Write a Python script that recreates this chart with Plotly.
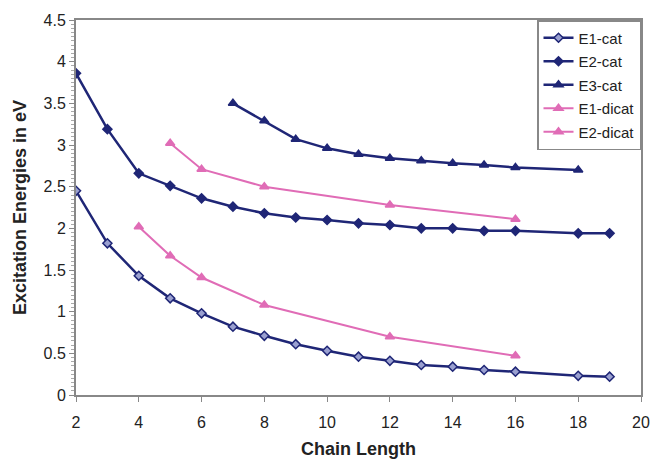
import plotly.graph_objects as go

# Data
x_e1cat = [2, 3, 4, 5, 6, 7, 8, 9, 10, 11, 12, 13, 14, 15, 16, 18, 19]
y_e1cat = [2.45, 1.82, 1.43, 1.16, 0.98, 0.82, 0.71, 0.61, 0.53, 0.46, 0.41, 0.36, 0.34, 0.30, 0.28, 0.23, 0.22]

x_e2cat = [2, 3, 4, 5, 6, 7, 8, 9, 10, 11, 12, 13, 14, 15, 16, 18, 19]
y_e2cat = [3.86, 3.19, 2.66, 2.51, 2.36, 2.26, 2.18, 2.13, 2.10, 2.06, 2.04, 2.00, 2.00, 1.97, 1.97, 1.94, 1.94]

x_e3cat = [7, 8, 9, 10, 11, 12, 13, 14, 15, 16, 18]
y_e3cat = [3.50, 3.29, 3.07, 2.96, 2.89, 2.84, 2.81, 2.78, 2.76, 2.73, 2.70]

x_e1dicat = [4, 5, 6, 8, 12, 16]
y_e1dicat = [2.02, 1.67, 1.41, 1.08, 0.70, 0.47]

x_e2dicat = [5, 6, 8, 12, 16]
y_e2dicat = [3.02, 2.71, 2.50, 2.28, 2.11]

NAVY = "#1f2676"
PINK = "#e06cb6"

fig = go.Figure()

def add(x, y, name, color, symbol, lw, ms, fill=None):
    fig.add_trace(go.Scatter(
        x=x, y=y, name=name, mode="lines+markers", legendgroup=name,
        line=dict(color=color, width=lw),
        marker=dict(symbol=symbol, size=ms, color=fill or color,
                    line=dict(color=color, width=1.5)),
    ))

add(x_e1cat, y_e1cat, "E1-cat", NAVY, "diamond", 2.5, 7, fill="#9aa0d0")
add(x_e2cat, y_e2cat, "E2-cat", NAVY, "diamond", 2.5, 7)
add(x_e3cat, y_e3cat, "E3-cat", NAVY, "triangle-up", 2.5, 8)
add(x_e1dicat, y_e1dicat, "E1-dicat", PINK, "triangle-up", 2, 8)
add(x_e2dicat, y_e2dicat, "E2-dicat", PINK, "triangle-up", 2, 8)

font = "Liberation Sans, Arial, sans-serif"

fig.update_layout(
    width=653, height=460,
    margin=dict(l=76, r=12, t=20, b=65),
    paper_bgcolor="white", plot_bgcolor="white",
    font=dict(family=font, size=16, color="#222222"),
    showlegend=True,
    legend=dict(
        x=1, y=1, xanchor="right", yanchor="top",
        bgcolor="white", bordercolor="#888888", borderwidth=1.5,
        font=dict(size=15, color="#222222"),
        tracegroupgap=1,
    ),
    xaxis=dict(
        range=[2, 20], dtick=2, tick0=2,
        showgrid=False, zeroline=False, automargin=False,
        showline=True, linecolor="#888888", linewidth=2, mirror=True,
        ticks="outside", ticklen=5, tickcolor="#888888",
        ticklabelstandoff=7,
        title=dict(text="<b>Chain Length</b>", font=dict(size=18), standoff=12),
        tickfont=dict(size=16),
    ),
    yaxis=dict(
        range=[0, 4.5], dtick=0.5,
        showgrid=False, zeroline=False, automargin=False,
        showline=True, linecolor="#888888", linewidth=2, mirror=True,
        ticks="outside", ticklen=5, tickcolor="#888888",
        minor=dict(dtick=0.05, ticks="outside", ticklen=3, tickcolor="#aaaaaa"),
        title=dict(text="<b>Excitation Energies in eV</b>", font=dict(size=18), standoff=12),
        tickfont=dict(size=16),
    ),
)

fig.write_html("out.html")
